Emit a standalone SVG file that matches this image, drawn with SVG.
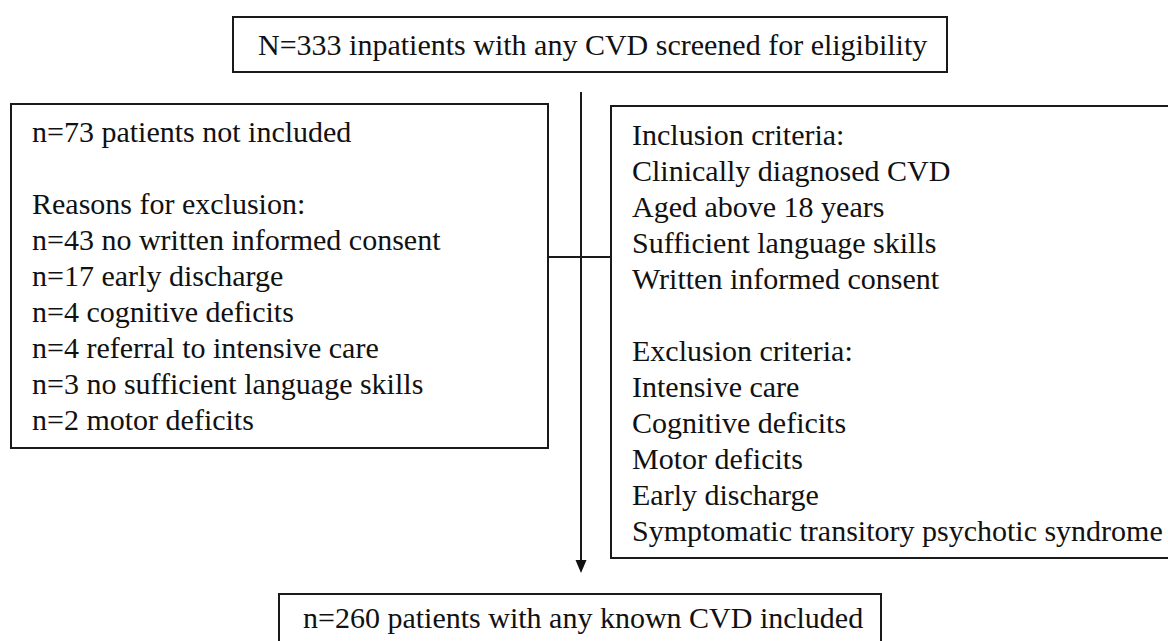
<svg xmlns="http://www.w3.org/2000/svg" width="1168" height="641" viewBox="0 0 1168 641">
<style>
.box{fill:#ffffff;stroke:#1a1a1a;stroke-width:2}
.ln{fill:none;stroke:#1a1a1a;stroke-width:2}
.head{fill:#111111}
text{font-family:"Liberation Serif","Times New Roman",serif;font-size:30px;fill:#111111}
</style>
<rect width="1168" height="641" fill="#ffffff"/>
<g id="connectors">
<line class="ln" x1="581" y1="92" x2="581" y2="562"/>
<path class="head" d="M575.5,560 L586.5,560 L581,573 Z"/>
<line class="ln" x1="548" y1="257" x2="611" y2="257"/>
</g>
<g id="screened">
<rect class="box" x="233" y="17" width="714" height="55"/>
<text x="258" y="55">N=333 inpatients with any CVD screened for eligibility</text>
</g>
<g id="excluded">
<rect class="box" x="11" y="104" width="537" height="344"/>
<text x="32" y="142">n=73 patients not included</text>
<text x="32" y="214">Reasons for exclusion:</text>
<text x="32" y="250">n=43 no written informed consent</text>
<text x="32" y="286">n=17 early discharge</text>
<text x="32" y="322">n=4 cognitive deficits</text>
<text x="32" y="358">n=4 referral to intensive care</text>
<text x="32" y="394">n=3 no sufficient language skills</text>
<text x="32" y="430">n=2 motor deficits</text>
</g>
<g id="criteria">
<rect class="box" x="611" y="106" width="570" height="452"/>
<text x="632" y="145">Inclusion criteria:</text>
<text x="632" y="181">Clinically diagnosed CVD</text>
<text x="632" y="217">Aged above 18 years</text>
<text x="632" y="253">Sufficient language skills</text>
<text x="632" y="289">Written informed consent</text>
<text x="632" y="361">Exclusion criteria:</text>
<text x="632" y="397">Intensive care</text>
<text x="632" y="433">Cognitive deficits</text>
<text x="632" y="469">Motor deficits</text>
<text x="632" y="505">Early discharge</text>
<text x="632" y="541">Symptomatic transitory psychotic syndrome</text>
</g>
<g id="included">
<rect class="box" x="279" y="594" width="602" height="60"/>
<text x="303" y="628">n=260 patients with any known CVD included</text>
</g>
</svg>
